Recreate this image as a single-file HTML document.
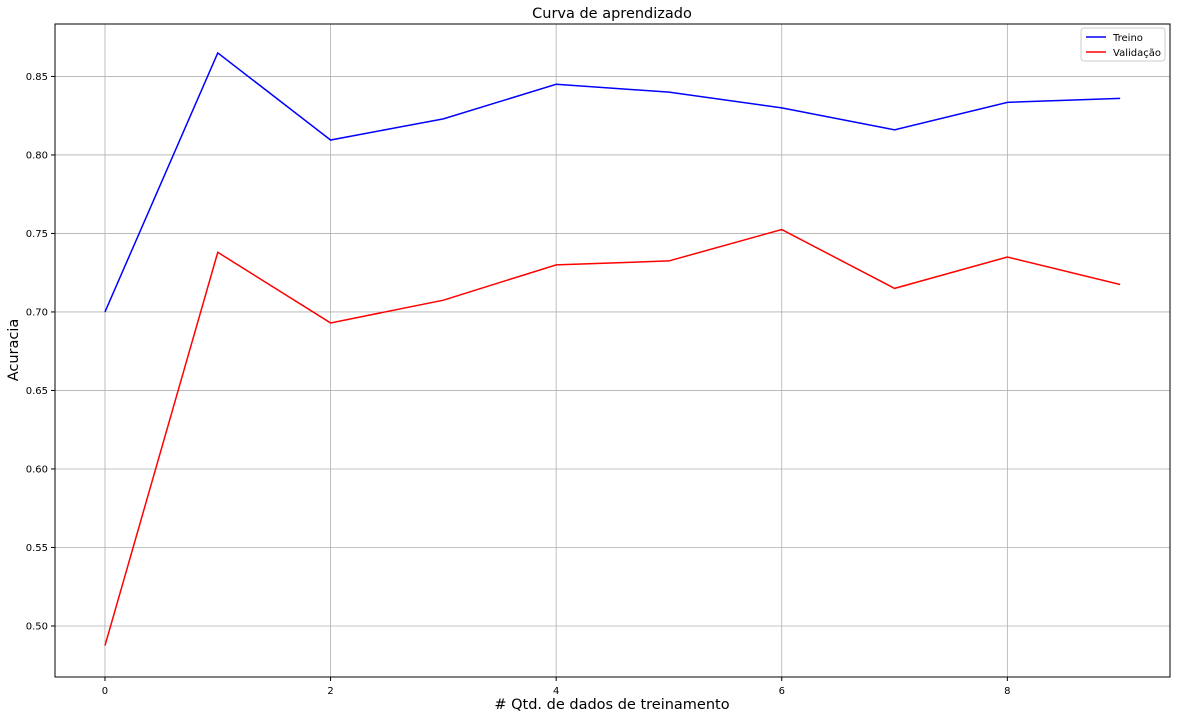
<!DOCTYPE html>
<html><head><meta charset="utf-8">
<style>
body{margin:0;background:#fff;font-family:"Liberation Sans","DejaVu Sans",sans-serif;}
svg text{font-family:"DejaVu Sans","Liberation Sans",sans-serif;}
</style></head>
<body>
<svg id="chart" width="1181" height="718" viewBox="0 0 1181 718">
<rect x="0" y="0" width="1181" height="718" fill="#fff"/>
<g id="grid"></g>
<g id="series"></g>
<rect x="55" y="24" width="1115" height="653" fill="none" stroke="#000" stroke-width="1"/>
<g id="axes"></g>
<text x="612" y="18" text-anchor="middle" font-size="14.5">Curva de aprendizado</text>
<text x="612" y="709" text-anchor="middle" font-size="14.5"># Qtd. de dados de treinamento</text>
<text x="18" y="350" text-anchor="middle" font-size="14.5" transform="rotate(-90 18 350)">Acuracia</text>
<g>
<rect x="1081" y="28" width="84" height="33" rx="3" fill="#fff" stroke="#ccc"/>
<line x1="1086" y1="37" x2="1106" y2="37" stroke="#0000ff" stroke-width="1.5"/>
<text x="1113" y="41" font-size="10">Treino</text>
<line x1="1086" y1="52" x2="1106" y2="52" stroke="#ff0000" stroke-width="1.5"/>
<text x="1113" y="56" font-size="10">Validação</text>
</g>
</svg>
<script>
const categories=[0,1,2,3,4,5,6,7,8,9];
const treino=[0.700,0.865,0.8095,0.823,0.845,0.840,0.830,0.816,0.8335,0.836];
const validacao=[0.4875,0.738,0.693,0.7075,0.730,0.7325,0.7525,0.715,0.735,0.7175];
const xTicks=[0,2,4,6,8];
const yTicks=[0.50,0.55,0.60,0.65,0.70,0.75,0.80,0.85];
const L=55,R=1170,T=24,B=677,x0=-0.443,x1=9.442,y0=0.4675,y1=0.8834;
const sx=v=>L+(v-x0)/(x1-x0)*(R-L);
const sy=v=>B-(v-y0)/(y1-y0)*(B-T);
const NS="http://www.w3.org/2000/svg";
const grid=document.getElementById('grid'),axes=document.getElementById('axes'),ser=document.getElementById('series');
function mk(tag,attrs,parent){const e=document.createElementNS(NS,tag);for(const k in attrs)e.setAttribute(k,attrs[k]);parent.appendChild(e);return e;}
xTicks.forEach(t=>{
 const x=sx(t);
 const g=mk('line',{x1:x,x2:x,y1:T,y2:B,stroke:'#b0b0b0','stroke-width':0.8},grid);
 
 
 const tk=mk('line',{x1:x,x2:x,y1:B,y2:B+4,stroke:'#000'},axes);
 
 
 const tx=mk('text',{x:x,y:B+17,'text-anchor':'middle','font-size':10},axes);
 tx.textContent=t;
 
 
});
yTicks.forEach(t=>{
 const y=sy(t);
 const g=mk('line',{x1:L,x2:R,y1:y,y2:y,stroke:'#b0b0b0','stroke-width':0.8},grid);
 
 
 const tk=mk('line',{x1:L-4,x2:L,y1:y,y2:y,stroke:'#000'},axes);
 
 
 const tx=mk('text',{x:L-7,y:y+3.5,'text-anchor':'end','font-size':10},axes);
 tx.textContent=t.toFixed(2);
 
 
});
function line(vals,color,name){
 const p=mk('polyline',{points:vals.map((v,i)=>sx(categories[i])+','+sy(v)).join(' '),fill:'none',stroke:color,'stroke-width':1.5},ser);
 
 
}
line(treino,'#0000ff','treino-line');
line(validacao,'#ff0000','validacao-line');
</script>
</body></html>
